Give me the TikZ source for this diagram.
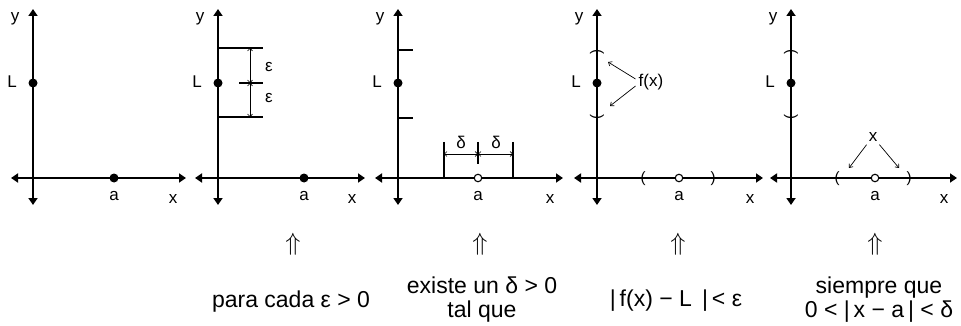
\documentclass[tikz,border=0pt]{standalone}
\usepackage{fontspec}
\setmainfont{Liberation Sans}
\usetikzlibrary{arrows.meta}

\begin{document}
\begin{tikzpicture}[x=1pt, y=-1pt,
  axis/.style={line width=1.8pt, {Triangle[length=7pt,width=9pt]}-{Triangle[length=7pt,width=9pt]}},
  bar/.style={line width=1.4pt},
  dim/.style={line width=0.6pt, {Straight Barb[length=2.5pt,width=5pt]}-{Straight Barb[length=2.5pt,width=5pt]}},
  ptr/.style={line width=0.7pt, -{Straight Barb[length=3pt,width=5pt]}},
  dot/.style={circle, fill=black, inner sep=0pt, minimum size=9pt},
  hole/.style={circle, draw, fill=white, line width=1.1pt, inner sep=0pt, minimum size=7.5pt},
  lbl/.style={font=\fontsize{17}{17}\selectfont, inner sep=0pt},
  par/.style={font=\fontsize{15}{15}\selectfont, inner sep=0pt},
  txt/.style={font=\fontsize{23}{24}\selectfont, align=center, inner sep=0pt}]
  \useasboundingbox (0,0) rectangle (961,326);
  % five copies of the axes
  \foreach \i/\ox/\xl/\xr/\ax in {1/33/11/186/114, 2/218/195/365/304,
      3/398/375/563/478, 4/597/574/763/679, 5/791/770/957/875} {
    \coordinate (top\i) at (\ox,9);
    \coordinate (bot\i) at (\ox,205);
    \coordinate (lft\i) at (\xl,178);
    \coordinate (rgt\i) at (\xr,178);
    \draw[axis] (bot\i) -- (top\i);
    \draw[axis] (lft\i) -- (rgt\i);
    \node[lbl] (y\i) at (\ox-18,19) {y};
    \node[lbl] (L\i) at (\ox-21,82) {L};
    \node[lbl] (x\i) at (\xr-13,199) {x};
    \node[lbl] (a\i) at (\ax,196) {a};
    \node[dot] (pL\i) at (\ox,83) {};
  }
  % points a
  \node[dot] (pa1) at (114,178) {};
  \node[dot] (pa2) at (304,178) {};
  \node[hole] (pa3) at (478,178) {};
  \node[hole] (pa4) at (679,178) {};
  \node[hole] (pa5) at (875,178) {};
  % epsilon band
  \coordinate (et0) at (218,48);  \coordinate (et1) at (263,48);
  \coordinate (em0) at (239,83);  \coordinate (em1) at (263,83);
  \coordinate (eb0) at (218,117); \coordinate (eb1) at (263,117);
  \draw[bar] (et0) -- (et1);
  \draw[bar] (em0) -- (em1);
  \draw[bar] (eb0) -- (eb1);
  \coordinate (ea) at (250,48); \coordinate (eb) at (250,83); \coordinate (ec) at (250,117);
  \draw[dim] (ea) -- (eb);
  \draw[dim] (eb) -- (ec);
  \node[lbl] (eps1) at (269,67) {ε};
  \node[lbl] (eps2) at (269,98) {ε};
  % delta band
  \coordinate (t1a) at (398,50);  \coordinate (t1b) at (413,50);
  \coordinate (t2a) at (398,118); \coordinate (t2b) at (413,118);
  \draw[bar] (t1a) -- (t1b);
  \draw[bar] (t2a) -- (t2b);
  \coordinate (dl0) at (444,142); \coordinate (dl1) at (444,178);
  \coordinate (dr0) at (513,142); \coordinate (dr1) at (513,178);
  \coordinate (dm0) at (478,142); \coordinate (dm1) at (478,164);
  \draw[bar] (dl0) -- (dl1);
  \draw[bar] (dr0) -- (dr1);
  \draw[bar] (dm0) -- (dm1);
  \coordinate (da) at (444,154); \coordinate (db) at (478,154); \coordinate (dc) at (513,154);
  \draw[dim] (da) -- (db);
  \draw[dim] (db) -- (dc);
  \node[lbl] (del1) at (461,142) {δ};
  \node[lbl] (del2) at (496,142) {δ};
  % intervals in panels 4 and 5
  \node[par, rotate=90] (pt4) at (597,52) {)};
  \node[par, rotate=90] (pb4) at (597,117) {(};
  \node[par] (pl4) at (643,179) {(};
  \node[par] (pr4) at (713,179) {)};
  \node[par, rotate=90] (pt5) at (791,52) {)};
  \node[par, rotate=90] (pb5) at (791,117) {(};
  \node[par] (pl5) at (837,179) {(};
  \node[par] (pr5) at (909,179) {)};
  % pointers
  \node[lbl] (fx) at (651,82) {f(x)};
  \coordinate (fu) at (608,62); \coordinate (fd) at (610,106);
  \draw[ptr] (fx.west) ++(-3,-3) -- (fu);
  \draw[ptr] (fx.west) ++(-3,4) -- (fd);
  \node[lbl] (xx) at (873,137) {x};
  \coordinate (xu) at (849,168); \coordinate (xv) at (899,168);
  \draw[ptr] (xx.south west) ++(-2,3) -- (xu);
  \draw[ptr] (xx.south east) ++(2,3) -- (xv);
  % reading of the definition
  \node[txt] (up2) at (293,244) {$\Uparrow$};
  \node[txt] (up3) at (480,244) {$\Uparrow$};
  \node[txt] (up4) at (678,244) {$\Uparrow$};
  \node[txt] (up5) at (875,244) {$\Uparrow$};
  \node[txt] (t2) at (291,302) {para cada ε > 0};
  \node[txt] (t3) at (482,300) {existe un δ > 0\\tal que};
  \node[txt] (t4) at (676,301) {|\,f(x) − L\, |\,< ε};
  \node[txt] (t5) at (879,300) {siempre que\\0 < |\,x − a\,| < δ};
\end{tikzpicture}
\end{document}
